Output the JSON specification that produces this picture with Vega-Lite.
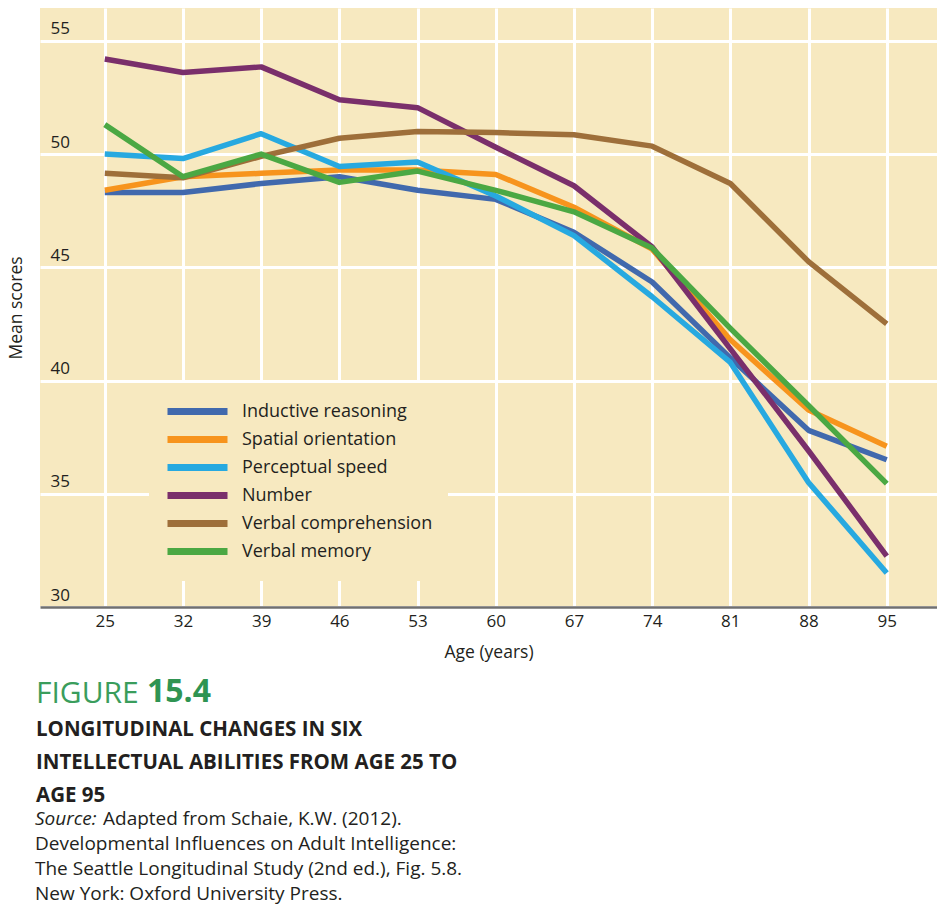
{
  "$schema": "https://vega.github.io/schema/vega-lite/v6.json",
  "background": "white",
  "padding": {"left": 7, "top": 8, "right": 0, "bottom": 0},
  "config": {
    "font": "Open Sans",
    "view": {"fill": "#f7e9c0", "stroke": null},
    "concat": {"spacing": 0}
  },
  "title": {
    "text": "Adapted from Schaie, K.W. (2012).",
    "orient": "bottom", "anchor": "start", "frame": "bounds",
    "font": "Open Sans", "fontSize": 19, "fontWeight": "normal", "color": "#231f20",
    "dx": 96, "dy": -94, "offset": 0
  },
  "vconcat": [{
    "title": {
      "text": "Source:",
      "subtitle": ["Developmental Influences on Adult Intelligence:", "The Seattle Longitudinal Study (2nd ed.), Fig. 5.8.", "New York: Oxford University Press."],
      "orient": "bottom", "anchor": "start", "frame": "bounds",
      "font": "Open Sans", "fontSize": 19, "fontStyle": "italic", "fontWeight": "normal", "color": "#231f20",
      "subtitleFont": "Open Sans", "subtitleFontSize": 19, "subtitleColor": "#231f20", "subtitleLineHeight": 25, "subtitlePadding": 6,
      "dx": 28, "offset": 4
    },
    "vconcat": [{
      "title": {
        "text": "15.4",
        "orient": "bottom", "anchor": "start", "frame": "bounds",
        "font": "Open Sans", "fontSize": 32, "fontWeight": "bold", "color": "#2f9452",
        "dx": 140, "dy": -129, "offset": 0
      },
      "vconcat": [{
        "width": 897,
        "height": 599,
        "title": {
          "text": "FIGURE",
          "subtitle": ["LONGITUDINAL CHANGES IN SIX", "INTELLECTUAL ABILITIES FROM AGE 25 TO", "AGE 95"],
          "orient": "bottom", "anchor": "start", "frame": "group",
          "font": "Open Sans", "fontSize": 30, "fontWeight": "normal", "color": "#3a9d5c",
          "subtitleFont": "Open Sans", "subtitleFontSize": 20.5, "subtitleFontWeight": "bold", "subtitleColor": "#231f20",
          "subtitleLineHeight": 33, "subtitlePadding": 11,
          "dx": -4, "offset": 18
        },
        "data": {"values": [
          {"age": 25, "ability": "Inductive reasoning", "score": 48.3},
          {"age": 32, "ability": "Inductive reasoning", "score": 48.3},
          {"age": 39, "ability": "Inductive reasoning", "score": 48.7},
          {"age": 46, "ability": "Inductive reasoning", "score": 49.0},
          {"age": 53, "ability": "Inductive reasoning", "score": 48.4},
          {"age": 60, "ability": "Inductive reasoning", "score": 48.0},
          {"age": 67, "ability": "Inductive reasoning", "score": 46.55},
          {"age": 74, "ability": "Inductive reasoning", "score": 44.35},
          {"age": 81, "ability": "Inductive reasoning", "score": 41.0},
          {"age": 88, "ability": "Inductive reasoning", "score": 37.8},
          {"age": 95, "ability": "Inductive reasoning", "score": 36.5},
          {"age": 25, "ability": "Spatial orientation", "score": 48.4},
          {"age": 32, "ability": "Spatial orientation", "score": 49.0},
          {"age": 39, "ability": "Spatial orientation", "score": 49.15},
          {"age": 46, "ability": "Spatial orientation", "score": 49.3},
          {"age": 53, "ability": "Spatial orientation", "score": 49.3},
          {"age": 60, "ability": "Spatial orientation", "score": 49.1},
          {"age": 67, "ability": "Spatial orientation", "score": 47.65},
          {"age": 74, "ability": "Spatial orientation", "score": 45.8},
          {"age": 81, "ability": "Spatial orientation", "score": 41.8},
          {"age": 88, "ability": "Spatial orientation", "score": 38.7},
          {"age": 95, "ability": "Spatial orientation", "score": 37.1},
          {"age": 25, "ability": "Perceptual speed", "score": 50.0},
          {"age": 32, "ability": "Perceptual speed", "score": 49.8},
          {"age": 39, "ability": "Perceptual speed", "score": 50.9},
          {"age": 46, "ability": "Perceptual speed", "score": 49.45},
          {"age": 53, "ability": "Perceptual speed", "score": 49.65},
          {"age": 60, "ability": "Perceptual speed", "score": 48.15},
          {"age": 67, "ability": "Perceptual speed", "score": 46.4},
          {"age": 74, "ability": "Perceptual speed", "score": 43.7},
          {"age": 81, "ability": "Perceptual speed", "score": 40.8},
          {"age": 88, "ability": "Perceptual speed", "score": 35.5},
          {"age": 95, "ability": "Perceptual speed", "score": 31.5},
          {"age": 25, "ability": "Number", "score": 54.2},
          {"age": 32, "ability": "Number", "score": 53.6},
          {"age": 39, "ability": "Number", "score": 53.85},
          {"age": 46, "ability": "Number", "score": 52.4},
          {"age": 53, "ability": "Number", "score": 52.05},
          {"age": 60, "ability": "Number", "score": 50.3},
          {"age": 67, "ability": "Number", "score": 48.6},
          {"age": 74, "ability": "Number", "score": 45.9},
          {"age": 81, "ability": "Number", "score": 41.4},
          {"age": 88, "ability": "Number", "score": 36.9},
          {"age": 95, "ability": "Number", "score": 32.25},
          {"age": 25, "ability": "Verbal comprehension", "score": 49.15},
          {"age": 32, "ability": "Verbal comprehension", "score": 48.95},
          {"age": 39, "ability": "Verbal comprehension", "score": 49.9},
          {"age": 46, "ability": "Verbal comprehension", "score": 50.7},
          {"age": 53, "ability": "Verbal comprehension", "score": 51.0},
          {"age": 60, "ability": "Verbal comprehension", "score": 50.95},
          {"age": 67, "ability": "Verbal comprehension", "score": 50.85},
          {"age": 74, "ability": "Verbal comprehension", "score": 50.35},
          {"age": 81, "ability": "Verbal comprehension", "score": 48.7},
          {"age": 88, "ability": "Verbal comprehension", "score": 45.25},
          {"age": 95, "ability": "Verbal comprehension", "score": 42.5},
          {"age": 25, "ability": "Verbal memory", "score": 51.3},
          {"age": 32, "ability": "Verbal memory", "score": 49.0},
          {"age": 39, "ability": "Verbal memory", "score": 50.0},
          {"age": 46, "ability": "Verbal memory", "score": 48.75},
          {"age": 53, "ability": "Verbal memory", "score": 49.25},
          {"age": 60, "ability": "Verbal memory", "score": 48.4},
          {"age": 67, "ability": "Verbal memory", "score": 47.45},
          {"age": 74, "ability": "Verbal memory", "score": 45.85},
          {"age": 81, "ability": "Verbal memory", "score": 42.3},
          {"age": 88, "ability": "Verbal memory", "score": 38.9},
          {"age": 95, "ability": "Verbal memory", "score": 35.45}
        ]},
        "mark": {"type": "line", "strokeWidth": 5.5, "strokeJoin": "round"},
        "encoding": {
          "x": {
            "field": "age", "type": "quantitative",
            "scale": {"domain": [19.2, 99.5], "nice": false, "zero": false},
            "axis": {
              "values": [25, 32, 39, 46, 53, 60, 67, 74, 81, 88, 95],
              "grid": true, "gridColor": "white", "gridWidth": 3, "gridOpacity": 1,
              "domain": true, "domainColor": "#707070", "domainWidth": 2.5,
              "ticks": false, "tickSize": 0,
              "labelFont": "Open Sans", "labelFontSize": 17, "labelColor": "#231f20", "labelPadding": 6,
              "title": "Age (years)", "titleFont": "Open Sans", "titleFontSize": 17.5, "titleFontWeight": "normal", "titleColor": "#231f20", "titlePadding": 14
            }
          },
          "y": {
            "field": "score", "type": "quantitative",
            "scale": {"domain": [30, 56.45], "nice": false, "zero": false},
            "axis": {
              "values": [30, 35, 40, 45, 50, 55],
              "grid": true, "gridColor": "white", "gridWidth": 3, "gridOpacity": 1,
              "domain": false, "ticks": false, "tickSize": 0,
              "labelFont": "Open Sans", "labelFontSize": 17, "labelColor": "#231f20",
              "labelAlign": "left", "labelBaseline": "alphabetic", "labelPadding": -10, "labelOffset": -7,
              "title": "Mean scores", "titleFont": "Open Sans", "titleFontSize": 17.5, "titleFontWeight": "normal", "titleColor": "#231f20",
              "titleX": -15
            }
          },
          "color": {
            "field": "ability", "type": "nominal",
            "scale": {
              "domain": ["Inductive reasoning", "Spatial orientation", "Perceptual speed", "Number", "Verbal comprehension", "Verbal memory"],
              "range": ["#4169ad", "#f7941d", "#27a9e0", "#7a2f6b", "#9e6f3a", "#4ba843"]
            },
            "legend": {
              "orient": "none", "legendX": 109, "legendY": 375,
              "title": null,
              "symbolType": "M-1,0H5", "symbolSize": 400, "symbolStrokeWidth": 7,
              "labelFont": "Open Sans", "labelFontSize": 18, "labelColor": "#231f20", "labelOffset": 51, "labelLimit": 400,
              "rowPadding": -1.9, "padding": 15,
              "fillColor": "#f7e9c0", "strokeColor": null
            }
          }
        }
      }]
    }]
  }]
}
